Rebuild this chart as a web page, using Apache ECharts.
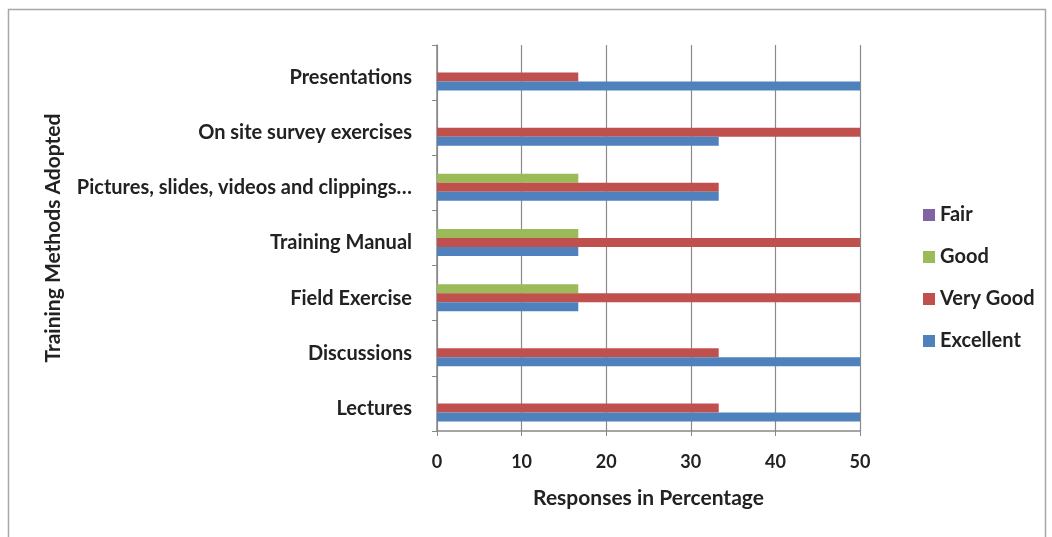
<!DOCTYPE html>
<html>
<head>
<meta charset="utf-8">
<script src="https://cdn.jsdelivr.net/npm/echarts@6/dist/echarts.min.js"></script>
<style>
  html, body { margin: 0; padding: 0; background: #fff; }
  #chart { width: 1052px; height: 537px; }
</style>
</head>
<body>
<div id="chart"></div>
<script>
// categories, bottom to top as drawn
const methods = [
  'Lectures',
  'Discussions',
  'Field Exercise',
  'Training Manual',
  'Pictures, slides, videos and clippings…',
  'On site survey exercises',
  'Presentations'
]
// responses in percentage per rating
const excellent = [50, 50, 16.7, 16.7, 33.3, 33.3, 50]
const veryGood = [33.3, 33.3, 50, 50, 33.3, 50, 16.7]
const good = [0, 0, 16.7, 16.7, 16.7, 0, 0]
const fair = [0, 0, 0, 0, 0, 0, 0]
const xTicks = [0, 10, 20, 30, 40, 50]

const chart = echarts.init(document.getElementById('chart'))
const font = 'Lato, "Open Sans", sans-serif'

// one bar series (first series is drawn at the top of each band)
function barSeries (name, data, color) {
  return {
    name: name,
    type: 'bar',
    data: data,
    barWidth: 9,
    barGap: '0%',
    itemStyle: { color: color }
  }
}

const option = {
  animation: false,
  textStyle: { fontFamily: font },
  graphic: [
    {
      type: 'rect',
      shape: { x: 8.5, y: 9.5, width: 1037, height: 540 },
      style: { fill: 'none', stroke: '#a8a8a8', lineWidth: 1.5 },
      silent: true
    }
  ],
  grid: { left: 437, right: 192, top: 45, bottom: 106 },
  legend: {
    orient: 'vertical',
    left: 918,
    top: 200,
    itemWidth: 12,
    itemHeight: 12,
    itemGap: 22,
    icon: 'rect',
    data: ['Fair', 'Good', 'Very Good', 'Excellent'],
    textStyle: { fontFamily: font, fontSize: 20, color: '#222', fontWeight: 'bold' }
  },
  xAxis: {
    type: 'value',
    min: xTicks[0],
    max: xTicks[xTicks.length - 1],
    interval: 10,
    name: 'Responses in Percentage',
    nameLocation: 'middle',
    nameGap: 57,
    nameTextStyle: { fontFamily: font, fontSize: 21, fontWeight: 'bold', color: '#222' },
    axisLine: { show: true, lineStyle: { color: '#888', width: 1.5 } },
    axisTick: { show: true, length: 5, lineStyle: { color: '#888' } },
    axisLabel: { fontFamily: font, fontSize: 18, color: '#222', fontWeight: 'bold', margin: 22 },
    splitLine: { show: true, lineStyle: { color: '#8a8a8a', width: 1.2 } }
  },
  yAxis: {
    type: 'category',
    data: methods,
    name: 'Training Methods Adopted',
    nameLocation: 'middle',
    nameGap: 373,
    nameRotate: 90,
    nameTextStyle: { fontFamily: font, fontSize: 21, fontWeight: 'bold', color: '#222' },
    axisLine: { show: true, lineStyle: { color: '#888', width: 1.5 } },
    axisTick: { show: true, length: 5, lineStyle: { color: '#888' } },
    axisLabel: {
      margin: 25,
      // labels sit a little below the bar group, as in the original
      formatter: v => '{a|' + v + '}',
      rich: {
        a: { fontFamily: font, fontSize: 20, color: '#222', fontWeight: 'bold', padding: [10, 0, 0, 0] }
      }
    }
  },
  series: [
    barSeries('Fair', fair, '#8064a2'),
    barSeries('Good', good, '#9bbb59'),
    barSeries('Very Good', veryGood, '#c0504d'),
    barSeries('Excellent', excellent, '#4f81bd')
  ]
}
chart.setOption(option)
</script>
</body>
</html>
